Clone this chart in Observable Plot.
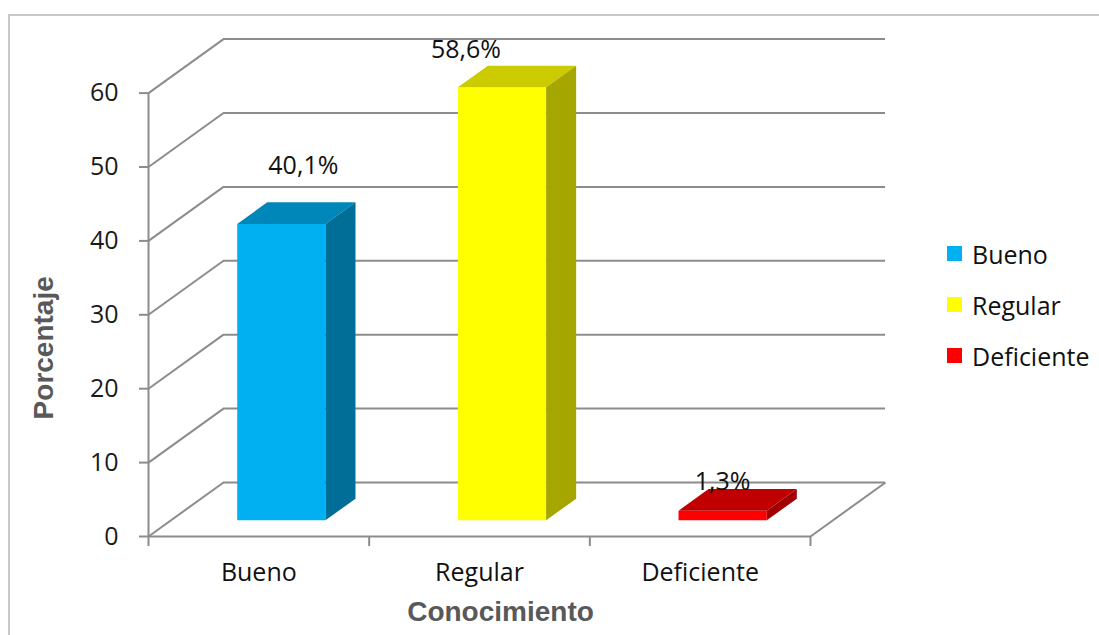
<!DOCTYPE html>
<html><head><meta charset="utf-8">
<script src="https://cdn.jsdelivr.net/npm/d3@7"></script>
<script src="https://cdn.jsdelivr.net/npm/@observablehq/plot@0.6"></script>
<style>
html,body{margin:0;padding:0;background:#fff;overflow:hidden}
#wrap{position:relative;width:1099px;height:635px;overflow:hidden}
#frame{position:absolute;left:8px;top:14px;width:1100px;height:640px;border:2px solid #c8c8c8;box-sizing:border-box}
#chart{position:absolute;left:0;top:0}
#legend{position:absolute;left:947px;top:228px;font-family:"Open Sans";font-size:25px;color:#111}
.row{display:flex;align-items:center;height:51px}
.sw{width:15px;height:15px;margin-right:10px}
</style></head><body>
<div id="wrap"><div id="frame"></div><div id="chart"></div><div id="legend"></div></div>
<script>
const categories = ["Bueno", "Regular", "Deficiente"];
const values = [40.1, 58.6, 1.3];
const valueLabels = ["40,1%", "58,6%", "1,3%"];
const yTicks = [0, 10, 20, 30, 40, 50, 60];
const frontColors = ["#00B0F0", "#FFFF00", "#FF0000"];
const topColors = ["#0087B9", "#CBCB00", "#C00000"];
const sideColors = ["#006E96", "#A6A600", "#A20000"];

// 3D projection (depth expressed in scale units)
const DEPTH_X = 0.34, DEPTH_Y = 7.31;
const BAR_X0 = 0.3, BAR_X1 = 0.7, BAR_D0 = 0.3, BAR_D1 = 0.7;
const labelNudge = [[22, -58], [-36, -37], [0, -29]];
const GRID = "#8c8c8c";

const proj = (x, v, d) => ({x: x + d * DEPTH_X, y: v + d * DEPTH_Y});

const marks = [];
// back wall gridlines
marks.push(Plot.ruleY(yTicks, {y: v => v + DEPTH_Y, x1: DEPTH_X, x2: 3 + DEPTH_X, stroke: GRID, strokeWidth: 2}));
// side wall diagonals
marks.push(Plot.link(yTicks, {x1: () => 0, y1: v => v, x2: () => DEPTH_X, y2: v => v + DEPTH_Y, stroke: GRID, strokeWidth: 2}));
// floor right edge
marks.push(Plot.link([0], {x1: () => 3, y1: v => v, x2: () => 3 + DEPTH_X, y2: v => v + DEPTH_Y, stroke: GRID, strokeWidth: 2}));
// front axes lines
marks.push(Plot.ruleY([0], {x1: 0, x2: 3, stroke: GRID, strokeWidth: 2}));
marks.push(Plot.ruleX([0], {y1: 0, y2: 60, stroke: GRID, strokeWidth: 2}));
marks.push(Plot.axisY(yTicks, {tickSize: 9, tickPadding: 21, stroke: GRID, strokeWidth: 2, fill: "#1a1a1a", label: null}));
marks.push(Plot.axisX([0, 1, 2, 3], {tickSize: 10, tickFormat: () => "", stroke: GRID, strokeWidth: 2, label: null}));

// bars
values.forEach((v, i) => {
  const xl = i + BAR_X0, xr = i + BAR_X1;
  const front = [proj(xl, 0, BAR_D0), proj(xr, 0, BAR_D0), proj(xr, v, BAR_D0), proj(xl, v, BAR_D0)];
  const top = [proj(xl, v, BAR_D0), proj(xr, v, BAR_D0), proj(xr, v, BAR_D1), proj(xl, v, BAR_D1)];
  const side = [proj(xr, 0, BAR_D0), proj(xr, 0, BAR_D1), proj(xr, v, BAR_D1), proj(xr, v, BAR_D0)];
  marks.push(Plot.line(front, {x: "x", y: "y", fill: frontColors[i], stroke: "none"}));
  marks.push(Plot.line(top, {x: "x", y: "y", fill: topColors[i], stroke: "none"}));
  marks.push(Plot.line(side, {x: "x", y: "y", fill: sideColors[i], stroke: "none"}));
  marks.push(Plot.text([v], {
    x: () => i + 0.5 + BAR_D0 * DEPTH_X, y: d => d + BAR_D0 * DEPTH_Y,
    text: () => valueLabels[i], dx: labelNudge[i][0], dy: labelNudge[i][1],
    fill: "#111", textAnchor: "middle", lineAnchor: "middle"
  }));
});

// category labels
marks.push(Plot.text(categories, {x: (d, i) => i + 0.5, y: () => 0, text: d => d, dy: 36, fill: "#111", textAnchor: "middle", lineAnchor: "middle"}));

// axis titles
marks.push(Plot.text(["Porcentaje"], {frameAnchor: "left", rotate: -90, dx: -104, dy: 33, text: d => d,
  fontFamily: "Liberation Sans, Arial, sans-serif", fontWeight: "bold", fontSize: 28, fill: "#595959",
  textAnchor: "middle", lineAnchor: "middle"}));
marks.push(Plot.text(["Conocimiento"], {frameAnchor: "bottom", dx: 21, dy: 76, text: d => d,
  fontFamily: "Liberation Sans, Arial, sans-serif", fontWeight: "bold", fontSize: 28, fill: "#595959",
  textAnchor: "middle", lineAnchor: "middle"}));

const chart = Plot.plot({
  width: 1099, height: 635,
  marginLeft: 148, marginRight: 289, marginTop: 92.6, marginBottom: 99,
  x: {type: "linear", domain: [0, 3], axis: null},
  y: {domain: [0, 60], axis: null},
  style: {background: "transparent", fontFamily: "Open Sans", fontSize: "25px", overflow: "visible"},
  marks
});
document.getElementById("chart").appendChild(chart);

const legend = document.getElementById("legend");
categories.forEach((c, i) => {
  const row = document.createElement("div");
  row.className = "row";
  const sw = document.createElement("span");
  sw.className = "sw";
  sw.style.background = frontColors[i];
  const t = document.createElement("span");
  t.textContent = c;
  row.appendChild(sw); row.appendChild(t);
  legend.appendChild(row);
});
</script>
</body></html>
